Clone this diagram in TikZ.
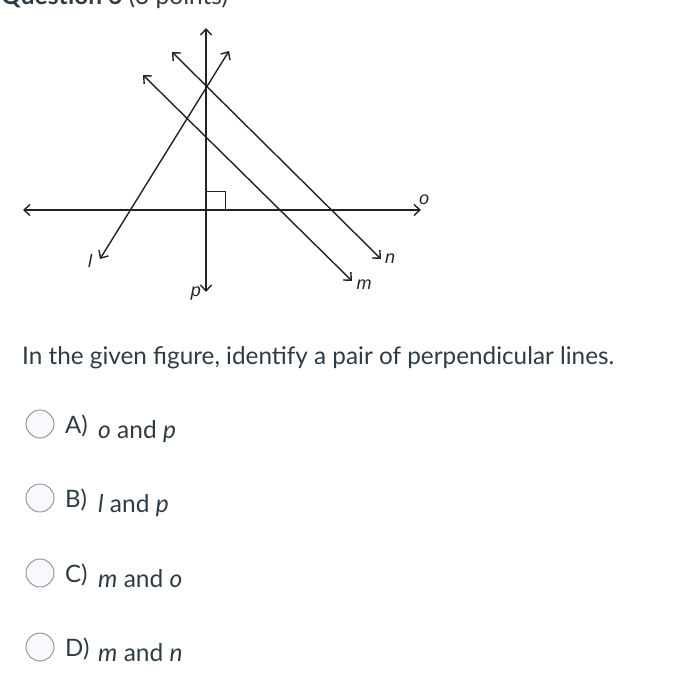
\documentclass[tikz,border=0pt]{standalone}
\usepackage{fontspec}
\setmainfont{Lato}
\newfontfamily\figfont{Liberation Sans}
\usetikzlibrary{arrows.meta}
\definecolor{txt}{HTML}{2D3B45}
\definecolor{ln}{HTML}{222222}
\definecolor{radiofill}{HTML}{F7F9FC}
\definecolor{radioedge}{HTML}{8A8E92}
\tikzset{
  geoline/.style={draw=ln, line width=1.4pt, {Straight Barb[length=6pt,width=11pt]}-{Straight Barb[length=6pt,width=11pt]}},
  figlab/.style={inner sep=0pt, font=\figfont\itshape\fontsize{18}{18}\selectfont, text=ln},
  txtlab/.style={inner sep=0pt, anchor=base west, text=txt, font=\fontsize{24}{28}\selectfont},
  anslab/.style={txtlab, font=\fontsize{24.5}{28}\selectfont},
  radio/.style={circle, draw=radioedge, fill=radiofill, line width=0.9pt, minimum size=28pt, inner sep=0pt}
}
\begin{document}
\begin{tikzpicture}[x=1pt,y=-1pt]
\useasboundingbox (0,0) rectangle (691,700);
\clip (0,0) rectangle (691,700);
% title (cut at top)
\node[txtlab, font=\fontsize{24.5}{28}\selectfont] (title) at (1,4.5) {\textbf{Question 6} (3 points)};
% line endpoints
\coordinate (pT) at (206,28);  \coordinate (pB) at (206,292);
\coordinate (oL) at (23,210);  \coordinate (oR) at (421,210);
\coordinate (lT) at (229,51);  \coordinate (lB) at (100,259);
\coordinate (nT) at (172,52);  \coordinate (nB) at (381,259);
\coordinate (mT) at (143,75);  \coordinate (mB) at (352,281);
\draw[geoline] (pB) -- (pT);
\draw[geoline] (oL) -- (oR);
\draw[geoline] (lB) -- (lT);
\draw[geoline] (nT) -- (nB);
\draw[geoline] (mT) -- (mB);
% right angle mark
\coordinate (ra1) at (206,192); \coordinate (ra2) at (225,192); \coordinate (ra3) at (225,210);
\draw[draw=ln, line width=1pt] (ra1) -- (ra2) -- (ra3);
% labels
\node[figlab] (labo) at (424,200) {o};
\node[figlab] (labn) at (390,259) {n};
\node[figlab] (labm) at (364,285) {m};
\node[figlab] (labl) at (90,261) {l};
\node[figlab] (labp) at (196,294) {p};
% question
\node[txtlab, font=\fontsize{24.3}{28}\selectfont] (q) at (22,364) {In the given figure, identify a pair of perpendicular lines.};
% options
\node[radio] (ca) at (40,424) {};
\node[txtlab] (la) at (65,433) {A)};
\node[anslab] (ta) at (98,438) {\textit{o} and \textit{p}};
\node[radio] (cb) at (40,498) {};
\node[txtlab] (lb) at (65,507) {B)};
\node[anslab] (tb) at (98,512) {\textit{l} and \textit{p}};
\node[radio] (cc) at (40,573) {};
\node[txtlab] (lc) at (65,582) {C)};
\node[anslab] (tc) at (98,587) {\textit{m} and \textit{o}};
\node[radio] (cd) at (40,647) {};
\node[txtlab] (ld) at (65,656) {D)};
\node[anslab] (td) at (98,661) {\textit{m} and \textit{n}};
\end{tikzpicture}
\end{document}
